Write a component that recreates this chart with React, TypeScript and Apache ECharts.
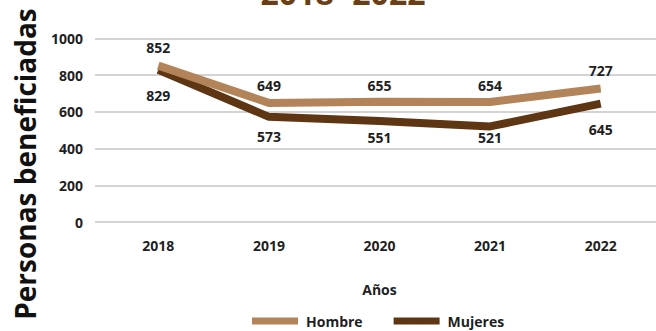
import React, { useEffect, useRef } from "react";
import * as echarts from "echarts";

const years = ["2018", "2019", "2020", "2021", "2022"];
const hombre = [852, 649, 655, 654, 727];
const mujeres = [829, 573, 551, 521, 645];
const yTicks = [0, 200, 400, 600, 800, 1000];
const hombreLabelGap = [11, 10, 9, 9, 11];
const mujeresLabelGap = [19, 13, 10, 4, 19];

const FONT = "Open Sans";
const TXT = "#1f1f1f";

export default function App() {
  const ref = useRef<HTMLDivElement>(null);
  useEffect(() => {
    document.body.style.margin = "0";
    if (!ref.current) return;
    const chart = echarts.init(ref.current, undefined, { renderer: "svg" });
    const mk = (vals: number[], gaps: number[]) =>
      vals.map((v, i) => ({ value: v, label: { distance: gaps[i] } }));
    chart.setOption({
      animation: false,
      backgroundColor: "#ffffff",
      textStyle: { fontFamily: FONT },
      grid: [
        { left: 95, right: 0, top: 38.5, bottom: 109 },
        { left: 103, right: -8, top: 38.5, bottom: 109 },
      ],
      xAxis: [
        { type: "category", gridIndex: 0, data: years, show: false },
        {
          type: "category",
          gridIndex: 1,
          data: years,
          axisLine: { show: false },
          axisTick: { show: false },
          axisLabel: { margin: 16, fontSize: 14, fontWeight: "bold", color: TXT, fontFamily: FONT },
          name: "Años",
          nameLocation: "middle",
          nameGap: 60,
          nameTextStyle: { fontSize: 14, fontWeight: "bold", color: TXT, fontFamily: FONT },
        },
      ],
      yAxis: [
        {
          type: "value",
          gridIndex: 0,
          min: yTicks[0],
          max: yTicks[yTicks.length - 1],
          interval: 200,
          axisLine: { show: false },
          axisTick: { show: false },
          axisLabel: {
            margin: 12,
            fontSize: 14,
            fontWeight: "bold",
            color: TXT,
            fontFamily: FONT,
            formatter: (v: number) => String(v),
          },
          splitLine: { lineStyle: { color: "#c4c4c4", width: 1.6 } },
        },
        {
          type: "value",
          gridIndex: 1,
          min: 0,
          max: 1000,
          interval: 200,
          show: false,
          splitLine: { show: false },
        },
      ],
      legend: {
        data: ["Hombre", "Mujeres"],
        left: 247,
        top: 309,
        icon: "rect",
        itemWidth: 46,
        itemHeight: 7,
        itemGap: 31,
        textStyle: { fontSize: 14, fontWeight: "bold", color: TXT, fontFamily: FONT, padding: [0, 0, 0, 3] },
      },
      graphic: [
        {
          type: "text",
          x: 343,
          y: 8,
          style: {
            text: "2018- 2022",
            fill: "#6b3f16",
            font: `bold 32px ${FONT}`,
            align: "center",
            verticalAlign: "bottom",
          },
        },
        {
          type: "text",
          x: 25,
          y: 164,
          rotation: Math.PI / 2,
          style: {
            text: "Personas beneficiadas",
            fill: "#111111",
            font: `bold 28px ${FONT}`,
            align: "center",
            verticalAlign: "middle",
          },
        },
      ],
      series: [
        {
          name: "Mujeres",
          type: "line",
          xAxisIndex: 1,
          yAxisIndex: 1,
          data: mk(mujeres, mujeresLabelGap),
          symbol: "circle",
          symbolSize: 0.01,
          z: 2,
          color: "#5e3613",
          lineStyle: { width: 8, color: "#5e3613" },
          label: { show: true, position: "bottom", fontSize: 14, fontWeight: "bold", color: TXT, fontFamily: FONT },
        },
        {
          name: "Hombre",
          type: "line",
          xAxisIndex: 1,
          yAxisIndex: 1,
          data: mk(hombre, hombreLabelGap),
          symbol: "circle",
          symbolSize: 0.01,
          z: 3,
          color: "#b3845a",
          lineStyle: { width: 8, color: "#b3845a" },
          label: { show: true, position: "top", fontSize: 14, fontWeight: "bold", color: TXT, fontFamily: FONT },
        },
      ],
    });
    return () => chart.dispose();
  }, []);
  return <div ref={ref} style={{ width: 656, height: 331 }} />;
}
